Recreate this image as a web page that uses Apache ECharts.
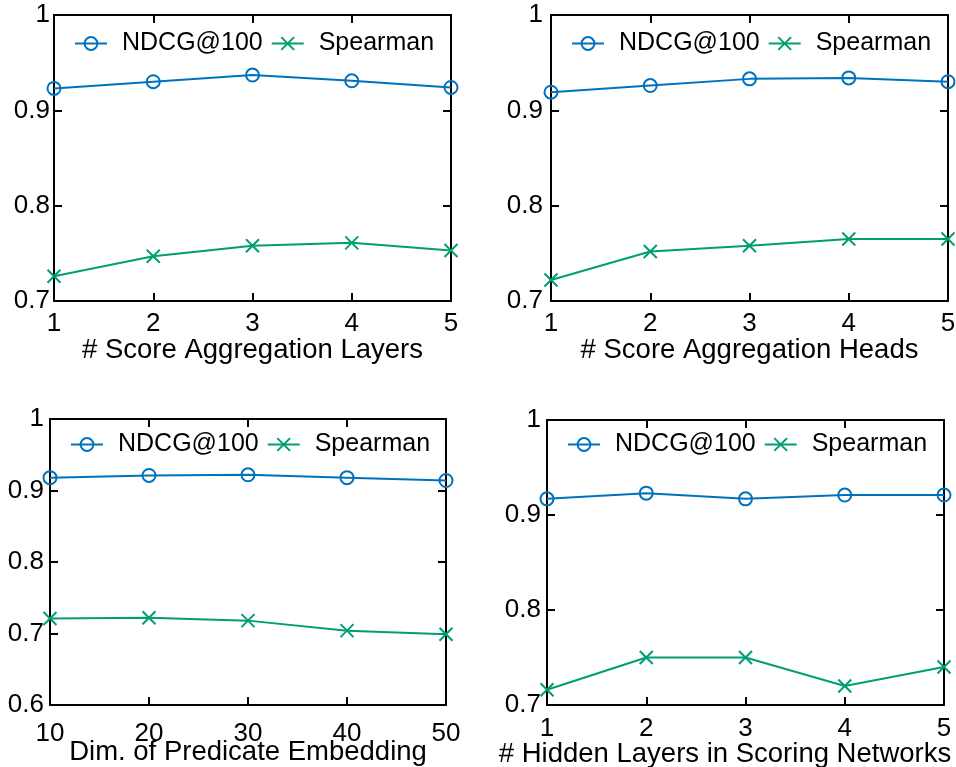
<!DOCTYPE html>
<html>
<head>
<meta charset="utf-8">
<script src="https://cdn.jsdelivr.net/npm/echarts@6/dist/echarts.min.js"></script>
<style>
  html, body { margin: 0; padding: 0; background: #fff; }
  #chart { width: 956px; height: 767px; }
</style>
</head>
<body>
<div id="chart"></div>
<script>
// Sensitivity of ranking quality to four hyper-parameters
const layerSteps = [1, 2, 3, 4, 5];
const embedDims = [10, 20, 30, 40, 50];

const aggLayersNdcg = [0.923, 0.930, 0.937, 0.931, 0.924];
const aggLayersSpearman = [0.726, 0.747, 0.758, 0.761, 0.753];

const aggHeadsNdcg = [0.919, 0.926, 0.933, 0.934, 0.930];
const aggHeadsSpearman = [0.722, 0.752, 0.758, 0.765, 0.765];

const embedDimNdcg = [0.918, 0.921, 0.922, 0.918, 0.914];
const embedDimSpearman = [0.721, 0.722, 0.718, 0.704, 0.699];

const hiddenLayersNdcg = [0.917, 0.923, 0.917, 0.921, 0.921];
const hiddenLayersSpearman = [0.716, 0.750, 0.750, 0.720, 0.740];

const axisTitles = [
  '# Score Aggregation Layers',
  '# Score Aggregation Heads',
  'Dim. of Predicate Embedding',
  '# Hidden Layers in Scoring Networks'
];
const seriesNames = ['NDCG@100', 'Spearman'];

const BLUE = '#0072bd';
const GREEN = '#009e73';
const FONT = '"Liberation Sans", Arial, Helvetica, sans-serif';

const panels = [
  { x: layerSteps, a: aggLayersNdcg, b: aggLayersSpearman, yMin: 0.7, xMin: 1, xMax: 5, xInt: 1,
    grid: { left: 54, top: 15, width: 397, height: 286 }, yMargin: 4, xMargin: 10,
    nameGap: 35, namePad: 0, legend: { left: 74, top: 31 } },
  { x: layerSteps, a: aggHeadsNdcg, b: aggHeadsSpearman, yMin: 0.7, xMin: 1, xMax: 5, xInt: 1,
    grid: { left: 551, top: 15, width: 397, height: 286 }, yMargin: 8, xMargin: 10,
    nameGap: 35, namePad: 0, legend: { left: 571, top: 31 } },
  { x: embedDims, a: embedDimNdcg, b: embedDimSpearman, yMin: 0.6, xMin: 10, xMax: 50, xInt: 10,
    grid: { left: 50, top: 419, width: 396, height: 286 }, yMargin: 6, xMargin: 16,
    nameGap: 33, namePad: 0, legend: { left: 70, top: 432 } },
  { x: layerSteps, a: hiddenLayersNdcg, b: hiddenLayersSpearman, yMin: 0.7, xMin: 1, xMax: 5, xInt: 1,
    grid: { left: 547, top: 420, width: 397, height: 285 }, yMargin: 6, xMargin: 11,
    nameGap: 35, namePad: 41, legend: { left: 567, top: 432 } }
];

const frameLine = { show: true, onZero: false, lineStyle: { color: '#000', width: 2 } };
const innerTick = { show: true, inside: true, length: 8, lineStyle: { color: '#000', width: 2 } };

const grids = [], xAxes = [], yAxes = [], series = [], legends = [];

panels.forEach((p, i) => {
  grids.push(Object.assign({ containLabel: false, outerBoundsMode: 'none' }, p.grid));

  xAxes.push({
    type: 'value', gridIndex: i, position: 'bottom',
    min: p.xMin, max: p.xMax, interval: p.xInt,
    axisLine: frameLine, axisTick: innerTick, splitLine: { show: false },
    axisLabel: { color: '#000', fontSize: 26, fontFamily: FONT, margin: p.xMargin },
    name: axisTitles[i], nameLocation: 'middle', nameGap: p.nameGap,
    nameMoveOverlap: false,
    nameTextStyle: { color: '#000', fontSize: 27.5, fontFamily: FONT,
      padding: [0, p.namePad, 0, 0] }
  });
  xAxes.push({
    type: 'value', gridIndex: i, position: 'top',
    min: p.xMin, max: p.xMax, interval: p.xInt,
    axisLine: frameLine, axisTick: innerTick, splitLine: { show: false },
    axisLabel: { show: false }
  });

  yAxes.push({
    type: 'value', gridIndex: i, position: 'left',
    min: p.yMin, max: 1, interval: 0.1,
    axisLine: frameLine, axisTick: innerTick, splitLine: { show: false },
    axisLabel: { color: '#000', fontSize: 26, fontFamily: FONT, margin: p.yMargin,
      padding: [4, 0, 0, 0],
      formatter: v => String(Math.round(v * 10) / 10) }
  });
  yAxes.push({
    type: 'value', gridIndex: i, position: 'right',
    min: p.yMin, max: 1, interval: 0.1,
    axisLine: frameLine, axisTick: innerTick, splitLine: { show: false },
    axisLabel: { show: false }
  });

  series.push({
    name: seriesNames[0], type: 'line',
    xAxisIndex: 2 * i, yAxisIndex: 2 * i,
    data: p.x.map((v, k) => [v, p.a[k]]),
    symbol: 'circle', symbolSize: 13,
    lineStyle: { color: BLUE, width: 2 },
    itemStyle: { color: 'rgba(0,0,0,0)', borderColor: BLUE, borderWidth: 2 },
    emphasis: { disabled: true }, animation: false
  });
  series.push({
    name: seriesNames[1], type: 'line',
    xAxisIndex: 2 * i, yAxisIndex: 2 * i,
    data: p.x.map((v, k) => [v, p.b[k]]),
    symbol: 'path://M0,0L10,10M0,10L10,0', symbolSize: 13,
    lineStyle: { color: GREEN, width: 2 },
    itemStyle: { color: 'rgba(0,0,0,0)', borderColor: GREEN, borderWidth: 2 },
    emphasis: { disabled: true }, animation: false
  });

  legends.push({
    left: p.legend.left, top: p.legend.top, padding: 0,
    itemWidth: 32, itemHeight: 16, itemGap: 8,
    data: seriesNames,
    selectedMode: false,
    textStyle: { color: '#000', fontSize: 25, fontFamily: FONT, padding: [0, 0, 0, 10] }
  });
});

const chart = echarts.init(document.getElementById('chart'), null, { renderer: 'canvas' });
chart.setOption({
  backgroundColor: '#fff',
  animation: false,
  grid: grids,
  xAxis: xAxes,
  yAxis: yAxes,
  legend: legends,
  series: series
});
</script>
</body>
</html>
